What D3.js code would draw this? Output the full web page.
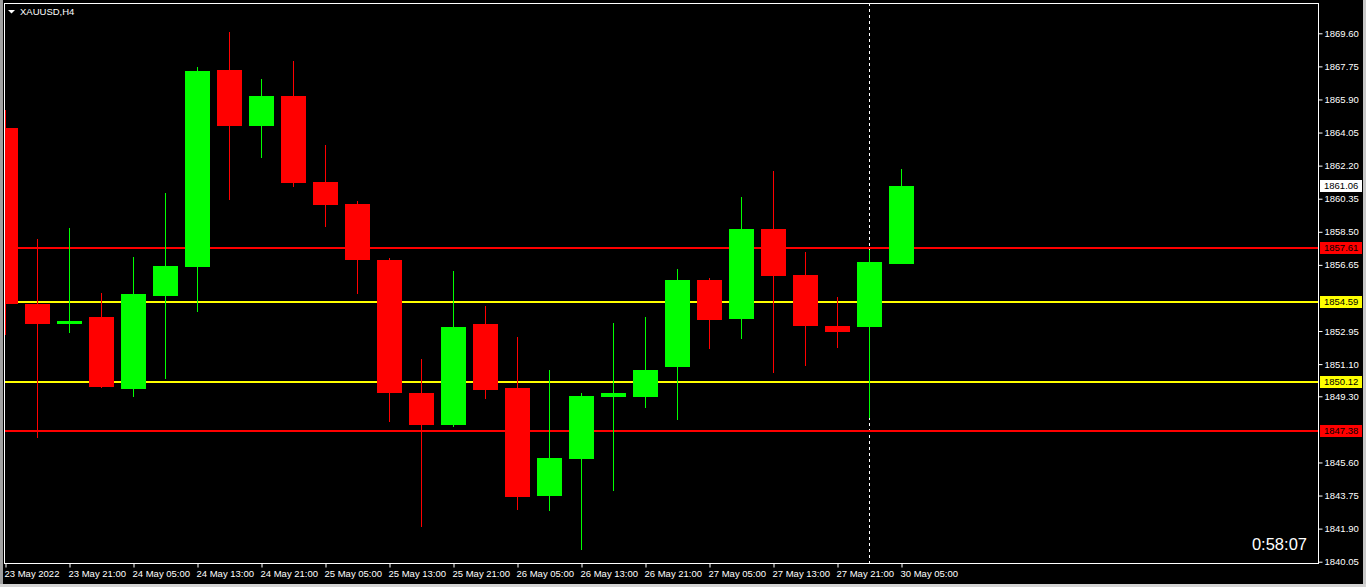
<!DOCTYPE html>
<html>
<head>
<meta charset="utf-8">
<script src="https://cdn.jsdelivr.net/npm/d3@7"></script>
<style>
  html, body { margin: 0; padding: 0; background: #000; overflow: hidden; }
  svg { display: block; }
  text { font-family: "Liberation Sans", Arial, sans-serif; }
</style>
</head>
<body>
<div id="chart"></div>
<script>
// --- data: XAUUSD H4, 23 May 13:00 .. 30 May 05:00 ---
const opens  = [1864.28, 1854.46, 1853.34, 1853.74, 1849.73, 1854.92, 1856.55, 1867.53, 1864.42, 1866.07,
                1861.28, 1860.05, 1856.92, 1849.49, 1847.67, 1853.34, 1849.76, 1843.71, 1845.82, 1849.28,
                1849.28, 1850.96, 1855.80, 1853.65, 1858.65, 1856.07, 1853.23, 1853.15, 1856.71];
const highs  = [1865.30, 1858.09, 1858.71, 1855.07, 1857.09, 1860.67, 1867.69, 1869.65, 1867.07, 1868.03,
                1863.34, 1860.21, 1857.03, 1851.40, 1856.30, 1854.34, 1852.61, 1850.78, 1849.49, 1853.40,
                1853.74, 1856.42, 1855.92, 1860.44, 1861.88, 1857.36, 1854.88, 1857.48, 1861.99];
const lows   = [1852.73, 1846.94, 1852.84, 1849.78, 1849.28, 1850.28, 1854.03, 1860.28, 1862.63, 1861.01,
                1858.78, 1855.01, 1847.84, 1841.98, 1847.61, 1849.17, 1842.92, 1842.86, 1840.69, 1843.98,
                1848.67, 1847.96, 1851.92, 1852.53, 1850.63, 1851.01, 1851.98, 1848.09, 1856.69];
const closes = [1854.46, 1853.34, 1853.51, 1849.84, 1855.01, 1856.59, 1867.48, 1864.42, 1866.07, 1861.24,
                1860.01, 1856.94, 1849.46, 1847.67, 1853.17, 1849.63, 1843.65, 1845.86, 1849.32, 1849.49,
                1850.78, 1855.80, 1853.59, 1858.65, 1856.05, 1853.24, 1852.92, 1856.80, 1861.06];

const timeLabels = ["23 May 2022", "23 May 21:00", "24 May 05:00", "24 May 13:00", "24 May 21:00",
                    "25 May 05:00", "25 May 13:00", "25 May 21:00", "26 May 05:00", "26 May 13:00",
                    "26 May 21:00", "27 May 05:00", "27 May 13:00", "27 May 21:00", "30 May 05:00"];
const timeLabelIdx = [0, 2, 4, 6, 8, 10, 12, 14, 16, 18, 20, 22, 24, 26, 28];

const priceTicks = ["1869.60", "1867.75", "1865.90", "1864.05", "1862.20", "1860.35", "1858.50",
                    "1856.65", "1852.95", "1851.10", "1849.30", "1845.60", "1843.75", "1841.90", "1840.05"];

// horizontal levels drawn on the chart
const levelPrices = [1857.61, 1854.59, 1850.12, 1847.38];
const levelColors = ["#ff0000", "#ffff00", "#ffff00", "#ff0000"];

const bidPrice = 1861.06;
const separatorIdx = 27;   // 30 May 01:00, new week
const symbolLabel = "XAUUSD,H4";
const countdown = "0:58:07";

// --- layout ---
const W = 1366, H = 587;
const frame = { left: 4, top: 3, right: 1318, bottom: 563 };

const svg = d3.select("#chart").append("svg")
    .attr("width", W)
    .attr("height", H);

svg.append("rect").attr("width", W).attr("height", H).attr("fill", "#000");

// window edges
svg.append("rect").attr("x", 0).attr("y", 0).attr("width", 3).attr("height", H).attr("fill", "#a0a0a0");
svg.append("rect").attr("x", 1363).attr("y", 0).attr("width", 3).attr("height", H).attr("fill", "#c8c8c8");
svg.append("rect").attr("x", 0).attr("y", 584).attr("width", W).attr("height", 3).attr("fill", "#d4d4d4");

const x = d3.scaleLinear().domain([0, 28]).range([5, 901]);
const y = d3.scaleLinear().domain([1840.05, 1869.60]).range([561.7, 33.3]);

svg.append("clipPath").attr("id", "plot")
  .append("rect")
    .attr("x", frame.left + 1).attr("y", frame.top + 1)
    .attr("width", frame.right - frame.left - 1)
    .attr("height", frame.bottom - frame.top - 1);

const plot = svg.append("g").attr("clip-path", "url(#plot)");

// period separator
plot.append("line")
    .attr("x1", x(separatorIdx) + 0.5).attr("x2", x(separatorIdx) + 0.5)
    .attr("y1", frame.top).attr("y2", frame.bottom)
    .attr("stroke", "#fff")
    .attr("stroke-width", 1)
    .attr("stroke-dasharray", "3,3");

// horizontal levels
plot.selectAll(".level")
    .data(levelPrices)
    .enter().append("line")
    .attr("x1", frame.left).attr("x2", frame.right)
    .attr("y1", d => Math.round(y(d)))
    .attr("y2", d => Math.round(y(d)))
    .attr("stroke", (d, i) => levelColors[i])
    .attr("stroke-width", 2);

// candles
const candles = d3.range(opens.length).map(i => ({
    i, o: opens[i], h: highs[i], l: lows[i], c: closes[i]
}));
const col = d => d.c >= d.o ? "#00ff00" : "#ff0000";

const cg = plot.selectAll(".candle")
    .data(candles)
    .enter().append("g");

cg.append("rect")
    .attr("x", d => Math.round(x(d.i)))
    .attr("width", 1)
    .attr("y", d => Math.round(y(d.h)))
    .attr("height", d => Math.max(1, Math.round(y(d.l)) - Math.round(y(d.h))))
    .attr("fill", col);

cg.append("rect")
    .attr("x", d => Math.round(x(d.i)) - 12)
    .attr("width", 25)
    .attr("y", d => Math.round(y(Math.max(d.o, d.c))))
    .attr("height", d => Math.max(2, Math.round(y(Math.min(d.o, d.c))) - Math.round(y(Math.max(d.o, d.c)))))
    .attr("fill", col);

// frame
svg.append("rect")
    .attr("x", frame.left + 0.5).attr("y", frame.top + 0.5)
    .attr("width", frame.right - frame.left)
    .attr("height", frame.bottom - frame.top)
    .attr("fill", "none")
    .attr("stroke", "#fff")
    .attr("stroke-width", 1);

// price axis
const yAxis = d3.axisRight(y)
    .tickValues(priceTicks.map(Number))
    .tickFormat((d, i) => priceTicks[i])
    .tickSize(4)
    .tickPadding(2);

const ya = svg.append("g")
    .attr("transform", `translate(${frame.right + 0.5},0)`)
    .call(yAxis);
ya.select(".domain").remove();
ya.selectAll(".tick line").attr("stroke", "#fff");
ya.selectAll(".tick text")
    .attr("fill", "#fff")
    .attr("font-size", "9.5px")
    .attr("font-family", "'Liberation Sans', Arial, sans-serif");

// time axis
const xAxis = d3.axisBottom(x)
    .tickValues(timeLabelIdx)
    .tickFormat((d, i) => timeLabels[i])
    .tickSize(4)
    .tickPadding(3);

const xa = svg.append("g")
    .attr("transform", `translate(0.5,${frame.bottom + 0.5})`)
    .call(xAxis);
xa.select(".domain").remove();
xa.selectAll(".tick line").attr("stroke", "#fff");
xa.selectAll(".tick text")
    .attr("fill", "#fff")
    .attr("text-anchor", "start")
    .attr("x", -1.5)
    .attr("font-size", "9.5px")
    .attr("font-family", "'Liberation Sans', Arial, sans-serif");

// level price tags on the axis
const tags = levelPrices.map((p, i) => ({ p, fill: levelColors[i], txt: "#000" }))
    .concat([{ p: bidPrice, fill: "#fff", txt: "#000" }]);

const tg = svg.selectAll(".tag")
    .data(tags)
    .enter().append("g")
    .attr("transform", d => `translate(1320,${Math.round(y(d.p))})`);

tg.append("rect")
    .attr("x", 0).attr("y", -6)
    .attr("width", 42).attr("height", 12)
    .attr("fill", d => d.fill);

tg.append("text")
    .attr("x", 4).attr("y", 0)
    .attr("dy", "0.35em")
    .attr("font-size", "9.5px")
    .attr("fill", d => d.txt)
    .text(d => d.p.toFixed(2));

// symbol title
svg.append("path")
    .attr("d", "M8,10 L15,10 L11.5,13.5 Z")
    .attr("fill", "#fff");
svg.append("text")
    .attr("x", 20).attr("y", 15)
    .attr("font-size", "9.5px")
    .attr("fill", "#fff")
    .text(symbolLabel);

// bar countdown
svg.append("text")
    .attr("x", 1307).attr("y", 550)
    .attr("text-anchor", "end")
    .attr("font-size", "16.5px")
    .attr("fill", "#fff")
    .text(countdown);
</script>
</body>
</html>
